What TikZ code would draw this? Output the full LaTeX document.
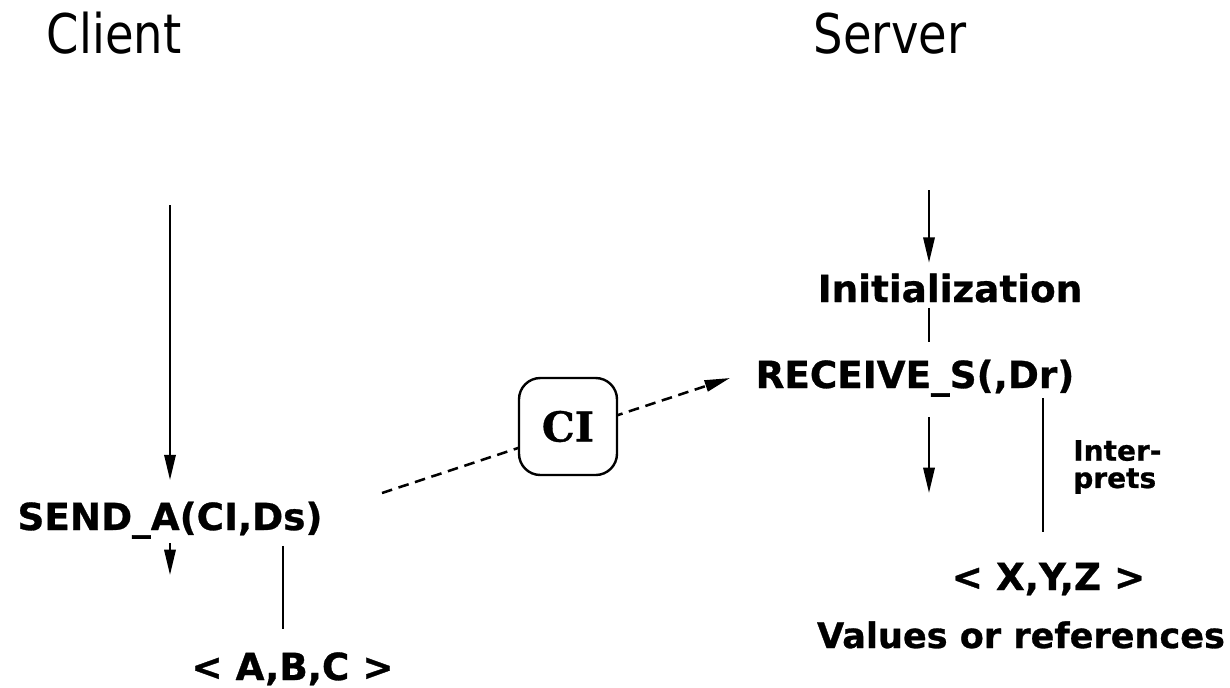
\documentclass[tikz,border=0pt]{standalone}
\usepackage{fontspec}
\setmainfont[BoldFeatures={FakeBold=0.8}]{DejaVu Sans}
\newfontfamily\titlefont[FakeStretch=0.85]{DejaVu Sans}
\newfontfamily\boxfont[BoldFeatures={FakeBold=0.8}]{DejaVu Serif}
\usetikzlibrary{arrows.meta}
\begin{document}
\begin{tikzpicture}[x=0.75pt,y=-0.75pt,
  title/.style={font=\titlefont\fontsize{41}{49}\selectfont, inner sep=0pt, anchor=base},
  lbl/.style={font=\fontsize{28}{34}\selectfont\bfseries, inner sep=0pt, anchor=base},
  note/.style={font=\fontsize{21}{20.5}\selectfont\bfseries, inner sep=0pt, align=left, anchor=west},
  arr/.style={line width=1.7pt, -{Triangle[length=19pt,width=8.5pt]}},
  plain/.style={line width=1.7pt},
  msg/.style={line width=1.9pt, dash pattern=on 8pt off 5pt, -{Triangle[length=19pt,width=8.5pt]}},
  cibox/.style={draw, line width=1.8pt, rounded corners=16pt, fill=white,
    minimum width=73.5pt, minimum height=72.75pt, inner sep=0pt,
    font=\boxfont\bfseries\fontsize{31}{36}\selectfont}]
\useasboundingbox (0,0) rectangle (1230,687);
% titles
\node[title] (client) at (114,53) {Client};
\node[title] (server) at (890,53) {Server};
% client side
\node[lbl] (send) at (170,530) {SEND\_A(CI,Ds)};
\node[lbl] (abc) at (292.5,680) {< A,B,C >};
\coordinate (cstart) at (170,205);
\coordinate (cout) at (170,575);
\coordinate (abcl) at (283,629);
\draw[arr, shorten >=16pt] (cstart) -- (send);
\draw[arr, shorten <=3pt] (send) -- (cout);
\draw[plain, shorten <=5pt] (abcl |- send.south) -- (abcl);
% server side
\node[lbl] (init) at (950,302) {Initialization};
\node[lbl] (recv) at (915,388) {RECEIVE\_S(,Dr)};
\node[lbl] (xyz) at (1048.5,590) {< X,Y,Z >};
\node[lbl, font=\fontsize{26.3}{32}\selectfont\bfseries] (vals) at (1021,648) {Values or references};
\node[note] (interp) at (1073,467) {Inter-\\prets};
\coordinate (sstart) at (929,190);
\coordinate (sout) at (929,493);
\coordinate (xyzl) at (1043,532);
\draw[arr, shorten >=8pt] (sstart) -- (init.north -| sstart);
\draw[plain, shorten <=3.75pt, shorten >=12.75pt] (init.south -| sstart) -- (recv.north -| sstart);
\draw[arr, shorten <=15pt] (recv.south -| sout) -- (sout);
\draw[plain, shorten <=0.75pt] (xyzl |- recv.south) -- (xyzl);
% message
\coordinate (dstart) at (382,493);
\coordinate (dend) at (730,378);
\draw[msg] (dstart) -- (dend);
\node[cibox] (ci) at (568,426.5) {CI};
\end{tikzpicture}
\end{document}
